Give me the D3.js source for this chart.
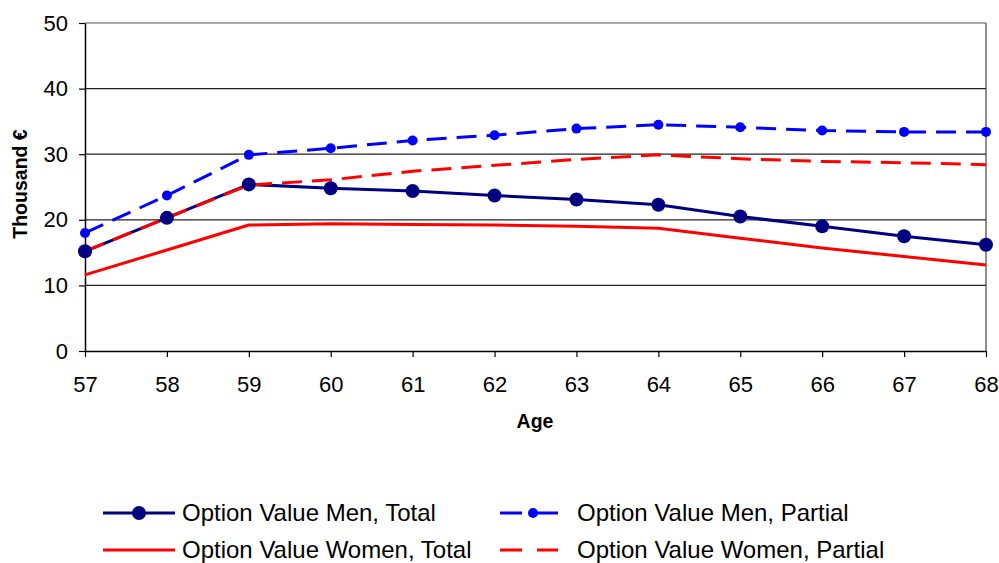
<!DOCTYPE html>
<html>
<head>
<meta charset="utf-8">
<script src="https://cdn.jsdelivr.net/npm/d3@7"></script>
<style>
  html, body { margin: 0; padding: 0; background: #fff; }
  svg { display: block; font-family: "Liberation Sans", Arial, sans-serif; }
</style>
</head>
<body>
<svg id="chart" width="999" height="563"></svg>
<script>
// Ages on the horizontal axis
const ages = [57, 58, 59, 60, 61, 62, 63, 64, 65, 66, 67, 68];

// Option values, thousand €
const menTotal     = [15.2, 20.3, 25.4, 24.8, 24.4, 23.7, 23.1, 22.3, 20.5, 19.0, 17.5, 16.2];
const menPartial   = [18.0, 23.7, 29.9, 30.9, 32.1, 32.9, 33.9, 34.5, 34.1, 33.6, 33.4, 33.4];
const womenTotal   = [11.6, 15.4, 19.2, 19.4, 19.3, 19.2, 19.0, 18.7, 17.2, 15.7, 14.4, 13.1];
const womenPartial = [15.2, 20.3, 25.3, 26.1, 27.4, 28.3, 29.2, 29.9, 29.3, 28.9, 28.7, 28.4];

const yTicks = [0, 10, 20, 30, 40, 50];

const seriesNames = [
  "Option Value Men, Total",
  "Option Value Men, Partial",
  "Option Value Women, Total",
  "Option Value Women, Partial"
];

const series = [
  { name: seriesNames[0], values: menTotal,     color: "#000080", dash: null,    r: 7 },
  { name: seriesNames[1], values: menPartial,   color: "#0000FF", dash: "20,10", r: 5 },
  { name: seriesNames[2], values: womenTotal,   color: "#FF0000", dash: null,    r: 0 },
  { name: seriesNames[3], values: womenPartial, color: "#FF0000", dash: "20,10", r: 0 }
];

const svg = d3.select("#chart");
const plotLeft = 85, plotRight = 986, plotTop = 23, plotBottom = 351;

const x = d3.scaleLinear().domain([57, 68]).range([plotLeft, plotRight]);
const y = d3.scaleLinear().domain([0, 50]).range([plotBottom, plotTop]);

// Horizontal gridlines
svg.append("g")
  .selectAll("line")
  .data(yTicks.filter(d => d > 0))
  .join("line")
  .attr("x1", plotLeft).attr("x2", plotRight)
  .attr("y1", d => y(d)).attr("y2", d => y(d))
  .attr("stroke", d => d === 50 ? "#555" : "#222")
  .attr("stroke-width", 1.2);

// Right edge of plot area
svg.append("line")
  .attr("x1", plotRight).attr("x2", plotRight)
  .attr("y1", plotTop).attr("y2", plotBottom)
  .attr("stroke", "#444").attr("stroke-width", 1.2);

// Y axis
const yAxis = svg.append("g")
  .attr("transform", `translate(${plotLeft},0)`)
  .call(d3.axisLeft(y).tickValues(yTicks).tickSize(6).tickPadding(11).tickSizeOuter(0));
yAxis.select(".domain").attr("stroke", "#000").attr("stroke-width", 1.5);
yAxis.selectAll(".tick line").attr("stroke", "#000").attr("stroke-width", 1.2);
yAxis.selectAll(".tick text")
  .attr("font-size", 22).attr("fill", "#000")
  .attr("font-family", "Liberation Sans, Arial, sans-serif");

// X axis
const xAxis = svg.append("g")
  .attr("transform", `translate(0,${plotBottom})`)
  .call(d3.axisBottom(x).tickValues(ages).tickFormat(d3.format("d")).tickSize(6).tickPadding(19).tickSizeOuter(0));
xAxis.select(".domain").attr("stroke", "#000").attr("stroke-width", 1.5);
xAxis.selectAll(".tick line").attr("stroke", "#000").attr("stroke-width", 1.2);
xAxis.selectAll(".tick text")
  .attr("font-size", 22).attr("fill", "#000")
  .attr("dy", "0.71em")
  .attr("font-family", "Liberation Sans, Arial, sans-serif");

// Axis titles
svg.append("text")
  .attr("x", 535).attr("y", 428)
  .attr("text-anchor", "middle")
  .attr("font-size", 19.5).attr("font-weight", "bold")
  .text("Age");

svg.append("text")
  .attr("transform", "translate(27,184) rotate(-90)")
  .attr("text-anchor", "middle")
  .attr("font-size", 19.5).attr("font-weight", "bold")
  .text("Thousand €");

// Lines
const line = d3.line()
  .x((d, i) => x(ages[i]))
  .y(d => y(d));

svg.append("g")
  .selectAll("path")
  .data(series)
  .join("path")
  .attr("d", s => line(s.values))
  .attr("fill", "none")
  .attr("stroke", s => s.color)
  .attr("stroke-width", 3)
  .attr("stroke-dasharray", s => s.dash)
  .attr("stroke-linejoin", "round");

// Markers
series.filter(s => s.r > 0).forEach(s => {
  svg.append("g")
    .selectAll("circle")
    .data(s.values)
    .join("circle")
    .attr("cx", (d, i) => x(ages[i]))
    .attr("cy", d => y(d))
    .attr("r", s.r)
    .attr("fill", s.color);
});

// Legend
const legendPos = [
  { lx1: 103, lx2: 175, tx: 182, ty: 513 },
  { lx1: 500, lx2: 558, tx: 577, ty: 513 },
  { lx1: 103, lx2: 175, tx: 182, ty: 550 },
  { lx1: 500, lx2: 558, tx: 577, ty: 550 }
];

const legend = svg.append("g");
series.forEach((s, i) => {
  const p = legendPos[i];
  legend.append("line")
    .attr("x1", p.lx1).attr("x2", p.lx2)
    .attr("y1", p.ty).attr("y2", p.ty)
    .attr("stroke", s.color).attr("stroke-width", 3)
    .attr("stroke-dasharray", s.dash ? "22,15" : null);
  if (s.r > 0) {
    legend.append("circle")
      .attr("cx", i === 0 ? 139 : 533).attr("cy", p.ty)
      .attr("r", s.r).attr("fill", s.color);
  }
  legend.append("text")
    .attr("x", p.tx).attr("y", p.ty)
    .attr("dy", "0.35em")
    .attr("font-size", 24)
    .attr("fill", "#000")
    .text(s.name);
});
</script>
</body>
</html>
